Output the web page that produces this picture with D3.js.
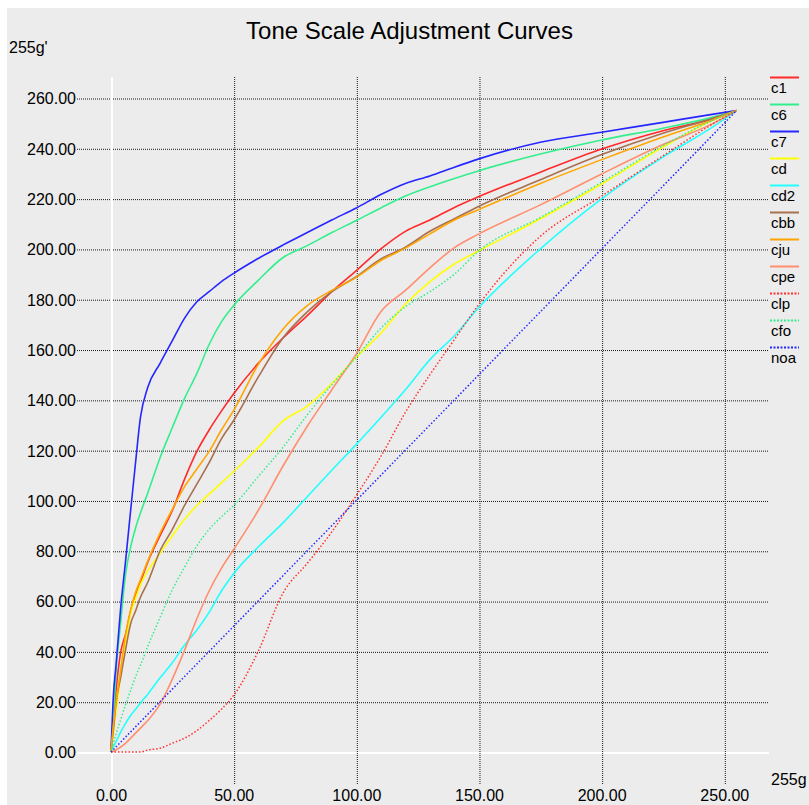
<!DOCTYPE html>
<html>
<head>
<meta charset="utf-8">
<script src="https://cdn.jsdelivr.net/npm/d3@7"></script>
<style>
  html, body { margin: 0; padding: 0; background: #fff; overflow: hidden; }
  svg { display: block; }
  text { font-family: "Liberation Sans", Arial, Helvetica, sans-serif; fill: #000; }
</style>
</head>
<body>
<svg id="chart" width="809" height="805"></svg>
<script>
// Input grey level (0..255) at which each curve is sampled
const inputLevels = [0, 1, 2, 4, 6, 8, 10, 12, 15, 20, 25, 30, 35, 40, 45, 50, 60, 70, 80, 90, 100, 110, 120, 130, 140, 150, 175, 200, 225, 245, 255];

// Output grey level of each tone curve
const c1  = [0, 13, 24, 40, 47, 56, 62, 67.5, 75.5, 86, 96, 108.5, 119.5, 128, 135.5, 142.4, 154.5, 164.5, 173.5, 183, 191.4, 200, 207, 211.5, 216.5, 220.8, 230.5, 239.7, 247, 251.7, 255];
const c6  = [0, 14, 31, 52, 71, 81.5, 89, 95, 103, 117, 129, 140.6, 150.5, 162, 171, 177.5, 187.5, 196.5, 201.3, 206.5, 211.3, 216.3, 221, 224.7, 228, 231.1, 237.7, 243.3, 248, 252.3, 255];
const c7  = [0, 23, 34, 58, 76.5, 96, 115, 133, 145, 154.5, 163.5, 172.5, 179, 183, 187, 190.3, 196.2, 201.5, 206.5, 211.5, 216.3, 221.6, 226, 229, 232.5, 235.8, 242.4, 246.4, 250.3, 253.5, 255];
const cd  = [0, 8, 16, 31, 44, 55, 61, 66.5, 72, 79, 86, 92.5, 98, 102.5, 107, 111.5, 121, 131.5, 137.5, 146.5, 157, 166.5, 178, 187, 194, 199.3, 212, 225.8, 240.5, 251, 255];
const cd2 = [0, 2, 4, 8, 11.5, 14.5, 17, 19.5, 23, 29.5, 35.5, 42.5, 48.5, 55.5, 64, 70.9, 81.5, 91, 101.5, 112, 122.3, 133, 144, 156, 165.5, 176.8, 200, 219.9, 236.5, 248.3, 255];
const cbb = [0, 9, 19, 30, 41, 51, 56, 61.5, 67.5, 80, 88.5, 98, 106.5, 115, 124.5, 131.8, 149, 164.5, 175, 183, 189, 196, 200.7, 207, 212, 217, 227.5, 237.5, 246, 251.8, 255];
const cju = [0, 11, 19, 33, 47, 56.5, 63.5, 68.5, 76, 87, 96.5, 105.5, 112.5, 119.5, 128, 135.8, 154, 168, 177.5, 183.5, 188.7, 195.4, 200.3, 206, 211.5, 215.7, 226, 235.5, 244.5, 251.2, 255];
const cpe = [0, 0.3, 0.8, 2, 3.5, 5.5, 7.5, 9.5, 12.5, 19, 29, 40.5, 53, 64, 73, 80.5, 96, 113.5, 129.5, 144, 158.3, 175, 183.5, 192.5, 200.5, 206, 217.5, 229.8, 241.5, 249.7, 255];
const clp = [0, 0, 0, 0, 0, 0, 0, 0, 0.8, 1.5, 3.5, 5.5, 8.5, 12.5, 17, 22.5, 40, 63, 75, 87.5, 102, 117.5, 135, 150, 164, 178, 205, 221, 237, 249.5, 255];
const cfo = [0, 3.5, 7, 13, 19, 24.5, 30, 34.5, 42, 53.5, 64.5, 73.5, 82, 88.5, 93.5, 98, 109.5, 121, 134, 146, 157, 168.5, 177, 183, 190, 199.3, 212.5, 226.5, 241, 251, 255];
const noa = [0, 1, 2, 4, 6, 8, 10, 12, 15, 20, 25, 30, 35, 40, 45, 50, 60, 70, 80, 90, 100, 110, 120, 130, 140, 150, 175, 200, 225, 245, 255];

const seriesNames  = ["c1", "c6", "c7", "cd", "cd2", "cbb", "cju", "cpe", "clp", "cfo", "noa"];
const seriesValues = [c1, c6, c7, cd, cd2, cbb, cju, cpe, clp, cfo, noa];
const seriesColors = ["#ff2a2a", "#33ee8c", "#2626ff", "#ffff00", "#22ffff", "#a8704f", "#ffa500", "#ff8f6e", "#ff3030", "#33ee8c", "#2626ff"];
const seriesDotted = [false, false, false, false, false, false, false, false, true, true, true];

const xTicks = [0, 50, 100, 150, 200, 250];
const yTicks = [0, 20, 40, 60, 80, 100, 120, 140, 160, 180, 200, 220, 240, 260];

const titleText = "Tone Scale Adjustment Curves";
const yAxisTitle = "255g'";
const xAxisTitle = "255g";

const svg = d3.select("#chart");

// Panel background
svg.append("rect")
  .attr("x", 7).attr("y", 8)
  .attr("width", 802).attr("height", 797)
  .attr("fill", "#ececec");

const x = d3.scaleLinear().domain([0, 250]).range([111, 724.3]);
const y = d3.scaleLinear().domain([0, 260]).range([752, 98]);

const gridLeft = 77, gridRight = 769, gridTop = 77, gridBottom = 784;
const fmt = d3.format(".2f");

// Y axis: labels on the left, ticks stretched into dotted gridlines
const yAxisG = svg.append("g")
  .attr("transform", `translate(${gridLeft},0)`)
  .call(d3.axisLeft(y).tickValues(yTicks).tickFormat(fmt)
        .tickSizeInner(-(gridRight - gridLeft)).tickSizeOuter(0).tickPadding(1));
yAxisG.select(".domain").remove();
yAxisG.selectAll(".tick line")
  .attr("stroke", "#1a1a1a")
  .attr("stroke-width", 1)
  .attr("stroke-dasharray", "1,1")
  .attr("transform", "translate(0,0.5)");
yAxisG.selectAll(".tick text")
  .attr("font-size", 16)
  .attr("font-family", "Liberation Sans, Arial, sans-serif")
  .attr("fill", "#000")
  .attr("dy", "0.37em");
yAxisG.selectAll(".tick").filter(d => d === 0).select("line")
  .attr("stroke", "#ffffff").attr("stroke-width", 2).attr("stroke-dasharray", null);

// X axis: labels at the bottom, ticks stretched up as dotted gridlines
const xAxisG = svg.append("g")
  .attr("transform", `translate(0,${gridBottom})`)
  .call(d3.axisBottom(x).tickValues(xTicks).tickFormat(fmt)
        .tickSizeInner(-(gridBottom - gridTop)).tickSizeOuter(0).tickPadding(6));
xAxisG.select(".domain").remove();
xAxisG.selectAll(".tick line")
  .attr("stroke", "#1a1a1a")
  .attr("stroke-width", 1)
  .attr("stroke-dasharray", "1,1")
  .attr("transform", "translate(0.5,0)");
xAxisG.selectAll(".tick text")
  .attr("font-size", 16)
  .attr("font-family", "Liberation Sans, Arial, sans-serif")
  .attr("fill", "#000");
xAxisG.selectAll(".tick").filter(d => d === 0).select("line")
  .attr("stroke", "#ffffff").attr("stroke-width", 2).attr("stroke-dasharray", null);

// Keep the white zero lines above the dotted grid
yAxisG.selectAll(".tick").filter(d => d === 0).raise();
xAxisG.raise();
xAxisG.selectAll(".tick").filter(d => d === 0).raise();

// Curves
const line = d3.line()
  .x((d, i) => x(inputLevels[i]))
  .y(d => y(d))
  .curve(d3.curveMonotoneX);

const curves = svg.append("g").attr("fill", "none");
seriesValues.forEach((vals, k) => {
  curves.append("path")
    .attr("d", line(vals))
    .attr("stroke", seriesColors[k])
    .attr("stroke-width", seriesDotted[k] ? 1.5 : 1.6)
    .attr("stroke-dasharray", seriesDotted[k] ? "1.5,2" : null)
    .attr("stroke-linejoin", "round");
});

// Legend
const legend = svg.append("g");
seriesNames.forEach((name, k) => {
  const ly = 77.5 + 27 * k;
  legend.append("line")
    .attr("x1", 770).attr("x2", 799)
    .attr("y1", ly).attr("y2", ly)
    .attr("stroke", seriesColors[k])
    .attr("stroke-width", 2)
    .attr("stroke-dasharray", seriesDotted[k] ? "2,1.5" : null);
  legend.append("text")
    .attr("x", 771).attr("y", ly + 15)
    .attr("font-size", 15)
    .text(name);
});

// Titles
svg.append("text")
  .attr("x", 409.5).attr("y", 39)
  .attr("text-anchor", "middle")
  .attr("font-size", 24)
  .text(titleText);

svg.append("text")
  .attr("x", 9).attr("y", 53)
  .attr("font-size", 16)
  .text(yAxisTitle);

svg.append("text")
  .attr("x", 771).attr("y", 785)
  .attr("font-size", 16)
  .text(xAxisTitle);
</script>
</body>
</html>
